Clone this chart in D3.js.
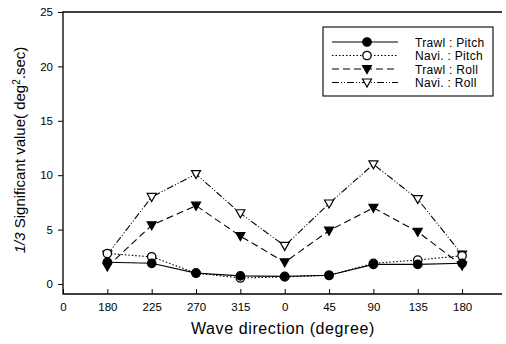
<!DOCTYPE html>
<html>
<head>
<meta charset="utf-8">
<script src="https://cdn.jsdelivr.net/npm/d3@7"></script>
<style>
  body { margin: 0; background: #fff; }
  text { font-family: "Liberation Sans", Arial, sans-serif; fill: #000; }
</style>
</head>
<body>
<script>
let w = 506;
let h = 344;

// x positions are category indices; "0" label sits at index 0
let xTickLabels = ["0", "180", "225", "270", "315", "0", "45", "90", "135", "180"];
let directions = ["180", "225", "270", "315", "0", "45", "90", "135", "180"];
let yTicks = [0, 5, 10, 15, 20, 25];

let trawlPitch = [2.0, 1.9, 1.0, 0.75, 0.7, 0.8, 1.8, 1.8, 1.9];
let naviPitch = [2.8, 2.5, 1.0, 0.55, 0.65, 0.8, 1.9, 2.2, 2.6];
let trawlRoll = [1.6, 5.4, 7.2, 4.4, 2.0, 4.9, 7.0, 4.8, 1.7];
let naviRoll = [2.7, 8.0, 10.1, 6.5, 3.5, 7.4, 11.0, 7.8, 2.7];

let series = [
  {name: "Trawl : Pitch", values: trawlPitch, dash: null, symbol: "circle", fill: "#000"},
  {name: "Navi. : Pitch", values: naviPitch, dash: "1.5,2", symbol: "circle", fill: "#fff"},
  {name: "Trawl : Roll", values: trawlRoll, dash: "7,4", symbol: "tri", fill: "#000"},
  {name: "Navi. : Roll", values: naviRoll, dash: "7,2,1,2,1,2", symbol: "tri", fill: "#fff"}
];

let mLeft = 63, mRight = 502, mTop = 12, mBottom = 294;

let x = d3.scaleLinear().domain([0, 9.9]).range([mLeft, mRight]);
let y = d3.scaleLinear().domain([-0.92, 25]).range([mBottom, mTop]);

let svg = d3.select("body").append("svg")
  .attr("width", w)
  .attr("height", h);

// frame: left, bottom, top
svg.append("path")
  .attr("d", `M${mRight},${mTop}H${mLeft}V${mBottom}H${mRight}`)
  .attr("fill", "none")
  .attr("stroke", "#000")
  .attr("stroke-width", 1.3);

let yAxis = svg.append("g")
  .attr("transform", `translate(${mLeft},0)`)
  .call(d3.axisLeft(y).tickValues(yTicks).tickSize(5).tickPadding(5));
yAxis.select(".domain").remove();
yAxis.selectAll("text").style("font-size", "11.5px");

let xAxis = svg.append("g")
  .attr("transform", `translate(0,${mBottom})`)
  .call(d3.axisBottom(x).tickValues(d3.range(0, 10)).tickSize(-5).tickPadding(9)
    .tickFormat(i => xTickLabels[i]));
xAxis.select(".domain").remove();
xAxis.selectAll("text").style("font-size", "11.5px");

svg.append("text")
  .attr("x", 283)
  .attr("y", 334)
  .attr("text-anchor", "middle")
  .style("font-size", "16px")
  .style("letter-spacing", "0.6px")
  .text("Wave direction (degree)");

let yl = svg.append("text")
  .attr("transform", `translate(25,${150}) rotate(-90)`)
  .attr("text-anchor", "middle")
  .style("font-size", "15px");
yl.append("tspan").style("font-style", "italic").text("1/3");
yl.append("tspan").text(" Significant value( deg");
yl.append("tspan").attr("dy", -5).style("font-size", "10px").text("2");
yl.append("tspan").attr("dy", 5).text(".sec)");

let line = d3.line().x((d, i) => x(i + 1)).y(d => y(d));

function drawSymbol(g, s, cx, cy) {
  if (s.symbol === "circle") {
    g.append("circle").attr("cx", cx).attr("cy", cy).attr("r", 4.2)
      .attr("fill", s.fill).attr("stroke", "#000").attr("stroke-width", 1.3);
  } else {
    g.append("path")
      .attr("d", `M${cx - 4.5},${cy - 3.5}L${cx + 4.5},${cy - 3.5}L${cx},${cy + 4.5}Z`)
      .attr("fill", s.fill).attr("stroke", "#000").attr("stroke-width", 1.2);
  }
}

series.forEach(s => {
  svg.append("path")
    .datum(s.values)
    .attr("d", line)
    .attr("fill", "none")
    .attr("stroke", "#000")
    .attr("stroke-width", 1.1)
    .attr("stroke-dasharray", s.dash);
});
series.slice().reverse().forEach(s => {
  let g = svg.append("g");
  s.values.forEach((v, i) => drawSymbol(g, s, x(i + 1), y(v)));
});

// legend
let lg = svg.append("g");
lg.append("rect")
  .attr("x", 323).attr("y", 27).attr("width", 170).attr("height", 69)
  .attr("fill", "#fff").attr("stroke", "#000").attr("stroke-width", 1.1);
series.forEach((s, i) => {
  let ly = 42 + i * 13.5;
  lg.append("line")
    .attr("x1", 332).attr("x2", 398).attr("y1", ly).attr("y2", ly)
    .attr("stroke", "#000").attr("stroke-width", 1.1)
    .attr("stroke-dasharray", s.dash);
  drawSymbol(lg, s, 367, ly);
  lg.append("text")
    .attr("x", 415).attr("y", ly + 4.5)
    .style("font-size", "12px")
    .style("letter-spacing", "0.3px")
    .text(s.name);
});
</script>
</body>
</html>
